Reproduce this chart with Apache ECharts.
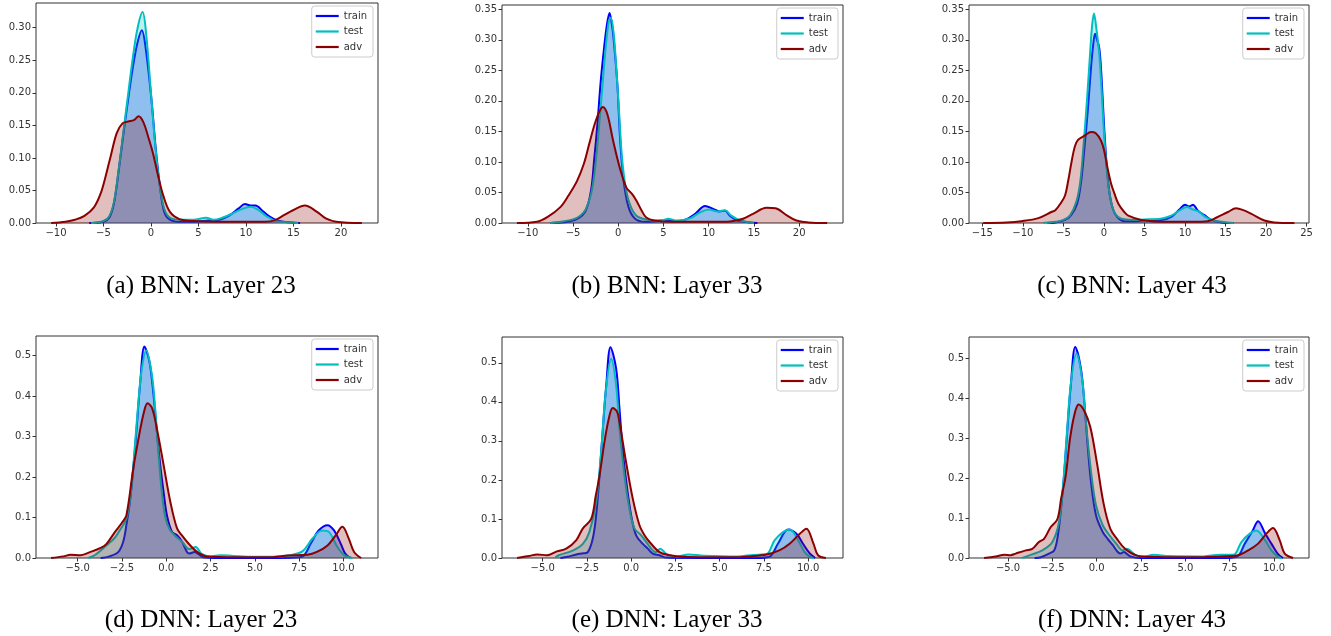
<!DOCTYPE html>
<html>
<head>
<meta charset="utf-8">
<script src="https://cdn.jsdelivr.net/npm/echarts@6/dist/echarts.min.js"></script>
<style>
html,body{margin:0;padding:0;background:#fff;}
#chart{width:1331px;height:636px;}
</style>
</head>
<body>
<div id="chart"></div>
<script>
// ---------- data (x, density) ----------
const a_train = [[-6.5,0],[-5,0.002],[-4.4,0.008],[-3.9,0.03],[-3.4,0.08],[-2.9,0.137],[-2.4,0.19],[-1.9,0.24],[-1.4,0.278],[-0.96,0.296],[-0.55,0.268],[0.05,0.19],[0.5,0.115],[0.95,0.056],[1.4,0.017],[2,0.005],[3,0.002],[4.5,0.002],[6,0.004],[7.2,0.005],[8.3,0.012],[9.2,0.022],[9.9,0.029],[10.5,0.027],[11,0.027],[11.8,0.018],[12.5,0.01],[13.3,0.004],[14.5,0.001],[15.7,0]];
const a_test = [[-6.3,0],[-5,0.003],[-4.4,0.01],[-3.9,0.032],[-3.4,0.082],[-2.9,0.14],[-2.4,0.198],[-1.9,0.255],[-1.4,0.3],[-0.88,0.324],[-0.5,0.29],[0.0,0.2],[0.45,0.12],[0.9,0.06],[1.4,0.022],[2,0.008],[3,0.005],[4.5,0.005],[5.8,0.008],[6.6,0.005],[7.5,0.008],[8.5,0.014],[9.5,0.021],[10.5,0.025],[11.3,0.02],[12.2,0.01],[13.2,0.003],[14.5,0.001],[15.5,0]];
const a_adv = [[-10.5,0],[-9,0.002],[-8,0.005],[-7,0.011],[-6,0.024],[-5.3,0.045],[-4.8,0.07],[-4.2,0.105],[-3.6,0.138],[-3.0,0.153],[-2.4,0.156],[-1.8,0.158],[-1.3,0.164],[-0.8,0.155],[-0.3,0.133],[0.2,0.108],[0.7,0.076],[1.3,0.042],[2.0,0.017],[3.0,0.006],[4.5,0.003],[7,0.002],[10,0.002],[12,0.002],[13,0.004],[14,0.012],[15,0.02],[16.2,0.027],[17.4,0.018],[18.4,0.007],[19.5,0.002],[22.2,0]];

const b_train = [[-7.5,0],[-5.6,0.002],[-4.5,0.007],[-3.6,0.02],[-3.0,0.054],[-2.67,0.102],[-2.3,0.162],[-1.96,0.228],[-1.6,0.282],[-1.25,0.325],[-0.96,0.344],[-0.7,0.325],[-0.5,0.3],[-0.1,0.228],[0.22,0.135],[0.59,0.07],[1.14,0.026],[1.87,0.007],[3,0.002],[4.2,0.003],[5.5,0.005],[6.5,0.003],[7.5,0.006],[8.5,0.015],[9.6,0.028],[10.5,0.023],[11.2,0.019],[11.8,0.02],[12.4,0.011],[13.2,0.004],[14.5,0.001],[15.4,0]];
const b_test = [[-7.5,0],[-6,0.003],[-5,0.006],[-4.2,0.012],[-3.6,0.022],[-3.0,0.048],[-2.6,0.085],[-2.2,0.145],[-1.8,0.215],[-1.4,0.285],[-1.05,0.33],[-0.82,0.336],[-0.5,0.31],[-0.2,0.25],[0.1,0.18],[0.4,0.11],[0.8,0.06],[1.3,0.03],[2,0.012],[3,0.006],[4,0.004],[5,0.005],[5.5,0.007],[6.5,0.004],[8,0.008],[9,0.017],[10,0.022],[11,0.019],[11.8,0.021],[12.5,0.012],[13.5,0.004],[15,0]];
const b_adv = [[-11.2,0],[-9,0.002],[-7.8,0.01],[-6.4,0.026],[-5.5,0.045],[-4.55,0.069],[-3.8,0.097],[-3.2,0.13],[-2.6,0.162],[-2.1,0.182],[-1.7,0.19],[-1.2,0.178],[-0.57,0.135],[0.16,0.091],[0.9,0.058],[1.5,0.048],[2.0,0.037],[2.6,0.02],[3.1,0.009],[4,0.004],[6,0.002],[9,0.002],[12,0.002],[13,0.004],[13.8,0.007],[14.9,0.015],[16.4,0.025],[17.4,0.024],[18.6,0.013],[19.7,0.004],[21,0.001],[23.1,0]];

const c_train = [[-7,0],[-6,0.001],[-4.8,0.005],[-4.05,0.013],[-3.3,0.032],[-2.8,0.07],[-2.4,0.124],[-2.0,0.183],[-1.6,0.254],[-1.3,0.295],[-1.1,0.31],[-0.85,0.3],[-0.57,0.286],[-0.29,0.237],[0.03,0.156],[0.43,0.08],[0.84,0.037],[1.45,0.013],[2.5,0.003],[4,0.003],[5.4,0.005],[7.1,0.005],[8.3,0.01],[9.3,0.022],[10,0.03],[10.5,0.027],[11,0.03],[11.6,0.02],[12.4,0.013],[13.25,0.005],[14.5,0.001],[16,0]];
const c_test = [[-7.5,0],[-6,0.002],[-5,0.005],[-4.2,0.012],[-3.4,0.035],[-2.9,0.07],[-2.5,0.13],[-2.1,0.2],[-1.7,0.28],[-1.45,0.325],[-1.23,0.343],[-0.95,0.32],[-0.6,0.28],[-0.3,0.22],[0,0.15],[0.4,0.08],[0.8,0.04],[1.4,0.015],[2.5,0.006],[4,0.005],[5.5,0.006],[7,0.007],[8.3,0.012],[9.5,0.022],[10.2,0.026],[11,0.022],[11.7,0.019],[12.5,0.01],[13.5,0.004],[16,0]];
const c_adv = [[-14.9,0],[-12,0.001],[-10.2,0.003],[-8.1,0.008],[-6.5,0.018],[-6.0,0.021],[-5.3,0.033],[-4.8,0.045],[-4.4,0.07],[-4.0,0.1],[-3.6,0.125],[-3.2,0.136],[-2.4,0.143],[-1.59,0.149],[-1.0,0.147],[-0.37,0.135],[0.0,0.12],[0.43,0.091],[0.85,0.066],[1.3,0.048],[1.8,0.031],[2.5,0.018],[3,0.012],[4.6,0.005],[8,0.002],[11,0.002],[12.8,0.003],[13.9,0.009],[15.3,0.018],[16.3,0.024],[17.2,0.021],[18.2,0.015],[19.8,0.004],[21,0.001],[23.5,0]];

const d_train = [[-3.7,0],[-3.2,0.004],[-2.7,0.015],[-2.43,0.04],[-2.25,0.081],[-2.05,0.139],[-1.86,0.221],[-1.67,0.32],[-1.48,0.427],[-1.23,0.522],[-0.95,0.485],[-0.72,0.403],[-0.53,0.312],[-0.34,0.23],[-0.15,0.163],[0.04,0.105],[0.33,0.064],[0.61,0.056],[0.89,0.04],[1.17,0.015],[1.3,0.011],[1.6,0.015],[1.8,0.01],[2.1,0.002],[3,0],[6,0],[7.2,0.001],[7.7,0.004],[8.15,0.035],[8.6,0.068],[9.1,0.081],[9.47,0.068],[9.85,0.035],[10.1,0.011],[10.4,0]];
const d_test = [[-4.4,0],[-4.0,0.008],[-3.4,0.03],[-2.9,0.05],[-2.6,0.07],[-2.25,0.097],[-2.0,0.16],[-1.8,0.26],[-1.6,0.37],[-1.4,0.46],[-1.13,0.512],[-0.82,0.455],[-0.63,0.373],[-0.44,0.258],[-0.25,0.163],[-0.05,0.1],[0.2,0.07],[0.5,0.055],[0.9,0.04],[1.3,0.022],[1.66,0.027],[2.0,0.01],[2.5,0.004],[3.07,0.007],[3.8,0.005],[5,0.003],[6,0.003],[7.0,0.007],[7.7,0.017],[8.25,0.048],[8.8,0.068],[9.19,0.064],[9.66,0.027],[10.04,0.007],[10.5,0]];
const d_adv = [[-6.5,0],[-5.8,0.004],[-5.4,0.008],[-4.84,0.007],[-4.27,0.015],[-3.7,0.025],[-3.37,0.035],[-2.9,0.064],[-2.5,0.087],[-2.25,0.105],[-1.86,0.221],[-1.5,0.31],[-1.26,0.36],[-1.06,0.382],[-0.8,0.37],[-0.53,0.32],[-0.15,0.23],[0.23,0.139],[0.61,0.073],[0.9,0.055],[1.17,0.04],[1.74,0.015],[2.3,0.004],[4,0.002],[6,0.002],[6.84,0.006],[7.97,0.008],[8.5,0.015],[9.1,0.031],[9.56,0.056],[9.94,0.077],[10.3,0.048],[10.6,0.015],[11.0,0]];

const e_train = [[-4.0,0],[-3.6,0.003],[-3.1,0.009],[-2.7,0.012],[-2.45,0.015],[-2.17,0.05],[-1.98,0.109],[-1.79,0.211],[-1.6,0.331],[-1.41,0.442],[-1.17,0.54],[-0.85,0.485],[-0.66,0.382],[-0.47,0.272],[-0.25,0.186],[0,0.109],[0.28,0.058],[0.66,0.036],[0.94,0.024],[1.22,0.011],[1.6,0.007],[2.0,0.001],[4,0],[7,0],[7.8,0.003],[8.3,0.037],[8.87,0.073],[9.34,0.062],[9.7,0.037],[10.1,0.011],[10.4,0]];
const e_test = [[-4.3,0],[-4.1,0.007],[-3.3,0.019],[-2.73,0.036],[-2.36,0.067],[-1.98,0.143],[-1.7,0.27],[-1.45,0.42],[-1.13,0.51],[-0.85,0.442],[-0.66,0.331],[-0.38,0.211],[-0.1,0.126],[0.19,0.075],[0.57,0.058],[0.85,0.041],[1.4,0.015],[1.64,0.024],[2.0,0.01],[2.6,0.004],[3.23,0.009],[4.1,0.006],[6.0,0.004],[6.9,0.008],[7.65,0.01],[8.1,0.045],[8.6,0.067],[8.97,0.073],[9.44,0.045],[9.8,0.015],[10.1,0.003],[10.3,0]];
const e_adv = [[-6.45,0],[-5.8,0.005],[-5.3,0.009],[-4.76,0.007],[-4.2,0.017],[-3.67,0.024],[-3.1,0.046],[-2.73,0.076],[-2.26,0.1],[-2.0,0.16],[-1.79,0.211],[-1.5,0.3],[-1.25,0.36],[-1.04,0.384],[-0.8,0.375],[-0.66,0.348],[-0.29,0.246],[0.09,0.152],[0.47,0.084],[0.8,0.055],[1.04,0.041],[1.6,0.015],[2.2,0.007],[3,0.003],[4,0.002],[6,0.002],[6.7,0.004],[7.65,0.009],[8.4,0.02],[8.97,0.037],[9.53,0.062],[9.9,0.075],[10.3,0.037],[10.56,0.007],[11.0,0]];

const f_train = [[-3.5,0],[-3.16,0.002],[-2.69,0.011],[-2.4,0.019],[-2.22,0.048],[-2.03,0.115],[-1.84,0.207],[-1.65,0.324],[-1.46,0.432],[-1.21,0.528],[-0.89,0.474],[-0.7,0.391],[-0.51,0.282],[-0.32,0.19],[-0.04,0.107],[0.34,0.065],[0.62,0.048],[0.91,0.032],[1.19,0.015],[1.35,0.011],[1.52,0.015],[1.9,0.004],[2.5,0],[7,0],[7.9,0.003],[8.35,0.036],[8.8,0.069],[9.1,0.092],[9.5,0.061],[9.85,0.036],[10.2,0.011],[10.5,0]];
const f_test = [[-4.2,0],[-3.83,0.006],[-3.07,0.019],[-2.5,0.04],[-2.12,0.09],[-1.9,0.18],[-1.7,0.3],[-1.45,0.44],[-1.13,0.512],[-0.8,0.44],[-0.61,0.34],[-0.32,0.216],[-0.04,0.132],[0.34,0.082],[0.72,0.057],[1.1,0.036],[1.47,0.019],[1.7,0.023],[2.17,0.008],[2.7,0.004],[3.2,0.008],[4.1,0.005],[6,0.004],[6.95,0.008],[7.7,0.008],[8.16,0.04],[8.63,0.061],[9.0,0.069],[9.5,0.044],[9.85,0.019],[10.2,0.004],[10.4,0]];
const f_adv = [[-6.35,0],[-5.7,0.004],[-5.2,0.008],[-4.85,0.007],[-4.57,0.011],[-4.0,0.019],[-3.63,0.023],[-3.26,0.04],[-2.97,0.048],[-2.6,0.077],[-2.22,0.097],[-2.0,0.15],[-1.75,0.205],[-1.5,0.3],[-1.25,0.36],[-1.02,0.384],[-0.7,0.368],[-0.36,0.328],[0.02,0.236],[0.39,0.136],[0.77,0.073],[1.14,0.048],[1.6,0.023],[2.27,0.006],[3,0.003],[4,0.002],[6,0.002],[6.95,0.004],[7.9,0.006],[8.54,0.019],[9.1,0.036],[9.57,0.061],[9.94,0.075],[10.32,0.044],[10.6,0.011],[11.07,0]];

// ---------- labels / ticks ----------
const seriesNames = ['train', 'test', 'adv'];
const captions = ['(a) BNN: Layer 23', '(b) BNN: Layer 33', '(c) BNN: Layer 43',
                  '(d) DNN: Layer 23', '(e) DNN: Layer 33', '(f) DNN: Layer 43'];
const xTicksAB = [-10, -5, 0, 5, 10, 15, 20];
const xTicksC = [-15, -10, -5, 0, 5, 10, 15, 20, 25];
const xTicksDNN = [-5, -2.5, 0, 2.5, 5, 7.5, 10];
const yTicksA = [0, 0.05, 0.10, 0.15, 0.20, 0.25, 0.30];
const yTicksBC = [0, 0.05, 0.10, 0.15, 0.20, 0.25, 0.30, 0.35];
const yTicksDNN = [0, 0.1, 0.2, 0.3, 0.4, 0.5];

// ---------- layout / style ----------
const colors = ['#0000ff', '#00bfbf', '#8b0000'];
const panels = [
  {data: [a_train, a_test, a_adv], grid: {left: 36, top: 3, width: 342, height: 220}, xr: [-12.1, 23.9], yMax: 0.338, xt: xTicksAB, yt: yTicksA, xd: 0, yd: 2, cap: [201, 286]},
  {data: [b_train, b_test, b_adv], grid: {left: 502, top: 5, width: 341, height: 218}, xr: [-12.85, 24.85], yMax: 0.357, xt: xTicksAB, yt: yTicksBC, xd: 0, yd: 2, cap: [667, 286]},
  {data: [c_train, c_test, c_adv], grid: {left: 969, top: 5, width: 340, height: 218}, xr: [-16.65, 25.3], yMax: 0.357, xt: xTicksC, yt: yTicksBC, xd: 0, yd: 2, cap: [1132, 286]},
  {data: [d_train, d_test, d_adv], grid: {left: 36, top: 336, width: 342, height: 222}, xr: [-7.35, 11.95], yMax: 0.548, xt: xTicksDNN, yt: yTicksDNN, xd: 1, yd: 1, cap: [201, 620]},
  {data: [e_train, e_test, e_adv], grid: {left: 502, top: 337, width: 341, height: 221}, xr: [-7.3, 11.97], yMax: 0.566, xt: xTicksDNN, yt: yTicksDNN, xd: 1, yd: 1, cap: [667, 620]},
  {data: [f_train, f_test, f_adv], grid: {left: 969, top: 337, width: 340, height: 221}, xr: [-7.2, 11.97], yMax: 0.553, xt: xTicksDNN, yt: yTicksDNN, xd: 1, yd: 1, cap: [1132, 620]}
];

const axisColor = '#333';
const fmtNum = (v, d) => (v < 0 ? '\u2212' : '') + Math.abs(v).toFixed(d);

const option = {
  animation: false,
  backgroundColor: '#fff',
  textStyle: {fontFamily: 'DejaVu Sans'},
  grid: [], xAxis: [], yAxis: [], series: [], legend: [],
  graphic: []
};

panels.forEach((p, i) => {
  option.grid.push(Object.assign({show: true, borderColor: axisColor, borderWidth: 1, backgroundColor: 'transparent'}, p.grid));
  option.xAxis.push({
    type: 'value', gridIndex: i, min: p.xr[0], max: p.xr[1], position: 'bottom',
    splitLine: {show: false},
    axisLine: {show: false, onZero: false},
    axisTick: {show: true, length: 3.5, lineStyle: {color: axisColor, width: 1}, customValues: p.xt},
    axisLabel: {show: true, customValues: p.xt, margin: 5, fontSize: 10, color: axisColor, fontFamily: 'DejaVu Sans',
      formatter: v => fmtNum(v, p.xd)}
  });
  option.yAxis.push({
    type: 'value', gridIndex: i, min: 0, max: p.yMax, position: 'left',
    splitLine: {show: false},
    axisLine: {show: false, onZero: false},
    axisTick: {show: true, length: 3.5, lineStyle: {color: axisColor, width: 1}, customValues: p.yt},
    axisLabel: {show: true, customValues: p.yt, margin: 5, fontSize: 10, color: axisColor, fontFamily: 'DejaVu Sans',
      formatter: v => fmtNum(v, p.yd)}
  });
  p.data.forEach((d, k) => {
    option.series.push({
      name: seriesNames[k], type: 'line', xAxisIndex: i, yAxisIndex: i,
      data: d, smooth: 0.35, symbol: 'none', showSymbol: false, silent: true,
      z: 2 + k,
      itemStyle: {color: colors[k]},
      lineStyle: {color: colors[k], width: 2},
      areaStyle: {color: colors[k], opacity: 0.25, origin: 'start'}
    });
  });
  const gRight = p.grid.left + p.grid.width;
  option.legend.push({
    data: seriesNames, orient: 'vertical', selectedMode: false,
    right: 1331 - (gRight - 5), top: p.grid.top + 3,
    icon: 'rect', itemWidth: 23, itemHeight: 2.2, itemGap: 3.5,
    padding: [4, 6, 4, 4],
    backgroundColor: 'rgba(255,255,255,0.8)', borderColor: '#cccccc', borderWidth: 1, borderRadius: 3,
    textStyle: {fontSize: 10, color: '#333', fontFamily: 'DejaVu Sans', lineHeight: 12}
  });
  option.graphic.push({
    type: 'text', x: p.cap[0], y: p.cap[1], silent: true,
    style: {text: captions[i], fill: '#000', font: '25px "Liberation Serif"', textAlign: 'center', textVerticalAlign: 'middle'}
  });
});

const chart = echarts.init(document.getElementById('chart'), null, {renderer: 'canvas'});
chart.setOption(option);
</script>
</body>
</html>
